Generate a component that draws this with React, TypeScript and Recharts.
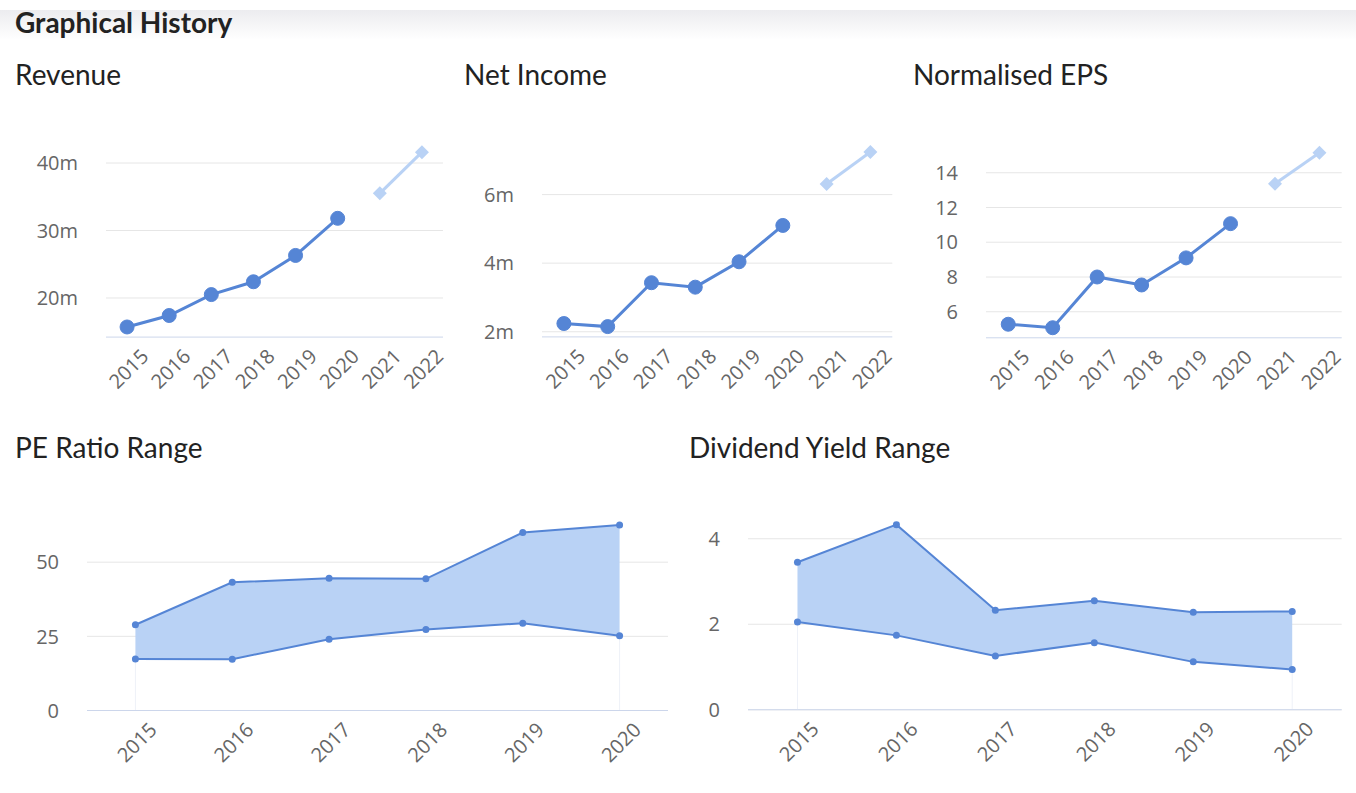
import React from "react";
import {
  LineChart, Line, XAxis, YAxis, CartesianGrid,
  ComposedChart, Area, ReferenceLine,
} from "recharts";

// categories
const YEARS = ["2015", "2016", "2017", "2018", "2019", "2020"];
const FORECAST_YEARS = ["2021", "2022"];

// series
const REVENUE = [15.7, 17.4, 20.5, 22.4, 26.3, 31.8];
const REVENUE_FC = [35.5, 41.6];
const NET_INCOME = [2.24, 2.15, 3.43, 3.3, 4.04, 5.1];
const NET_INCOME_FC = [6.31, 7.24];
const EPS = [5.28, 5.08, 8.0, 7.54, 9.1, 11.07];
const EPS_FC = [13.37, 15.15];
const PE_HIGH = [28.9, 43.2, 44.6, 44.4, 60.0, 62.5];
const PE_LOW = [17.4, 17.3, 24.0, 27.3, 29.4, 25.2];
const DY_HIGH = [3.45, 4.33, 2.33, 2.55, 2.28, 2.3];
const DY_LOW = [2.05, 1.74, 1.26, 1.57, 1.12, 0.94];

// tick labels
const REVENUE_TICKS = [20, 30, 40];
const NET_INCOME_TICKS = [2, 4, 6];
const EPS_TICKS = [6, 8, 10, 12, 14];
const PE_TICKS = [0, 25, 50];
const DY_TICKS = [0, 2, 4];

const BLUE = "#5585d5";
const LIGHT = "#b9d2f5";
const FILL = "#b9d2f5";
const GRID = "#e6e6e6";
const AXIS = "#ccd6eb";
const TICK_FONT = "'Open Sans', sans-serif";
const TITLE_FONT = "Lato, sans-serif";

const YW = 90;
const MT = 12;
const MR = 12;
const XH = 80;

interface Plot { left: number; right: number; top: number; bottom: number }

function trendRows(actual: number[], forecast: number[]) {
  const rows = YEARS.map((year, i) => ({ year, actual: actual[i], forecast: null as number | null }));
  FORECAST_YEARS.forEach((year, i) => rows.push({ year, actual: null as any, forecast: forecast[i] }));
  return rows;
}

function rangeRows(low: number[], high: number[]) {
  return YEARS.map((year, i) => ({ year, low: low[i], high: high[i], range: [low[i], high[i]] }));
}

function YTick(props: any) {
  const { x, y, payload, fmt } = props;
  return (
    <text x={x} y={y} dy="0.36em" textAnchor="end" fill="#666" fontSize={20} fontFamily={TICK_FONT}>
      {fmt ? fmt(payload.value) : payload.value}
    </text>
  );
}

function XTick(props: any) {
  const { x, y, payload } = props;
  return (
    <g transform={`translate(${x + 12.5},${y + 10.5})`}>
      <text textAnchor="end" transform="rotate(-45)" dy="0.72em" fill="#666" fontSize={20} fontFamily={TICK_FONT}>
        {payload.value}
      </text>
    </g>
  );
}

function Diamond(props: any) {
  const { cx, cy, index } = props;
  if (cx == null || cy == null) return <g key={`d${index}`} />;
  const s = 7;
  return <path key={`d${index}`} d={`M${cx},${cy - s}L${cx + s},${cy}L${cx},${cy + s}L${cx - s},${cy}Z`} fill={LIGHT} />;
}

function box(p: Plot) {
  return {
    left: p.left - YW,
    top: p.top - MT,
    width: YW + (p.right - p.left) + MR,
    height: MT + (p.bottom - p.top) + XH,
  };
}

function Title({ text, left, baseline }: { text: string; left: number; baseline: number }) {
  const f = 28;
  return (
    <div style={{
      position: "absolute", left, top: baseline - f * 0.887, fontSize: f, lineHeight: `${f}px`,
      fontFamily: TITLE_FONT, color: "#222", whiteSpace: "nowrap",
    }}>{text}</div>
  );
}

function TrendChart({ plot, actual, forecast, domain, ticks, fmt }: {
  plot: Plot; actual: number[]; forecast: number[]; domain: [number, number]; ticks: number[]; fmt: (v: number) => string;
}) {
  const b = box(plot);
  const band = (plot.right - plot.left) / (YEARS.length + FORECAST_YEARS.length);
  return (
    <div style={{ position: "absolute", left: b.left, top: b.top }}>
      <LineChart width={b.width} height={b.height} data={trendRows(actual, forecast)}
        margin={{ top: MT, right: MR, left: 0, bottom: 0 }}>
        <CartesianGrid vertical={false} stroke={GRID} strokeWidth={1} syncWithTicks />
        <XAxis dataKey="year" scale="point" padding={{ left: band / 2, right: band / 2 }}
          interval={0} height={XH} tickLine={false} tickSize={0} tickMargin={0}
          axisLine={{ stroke: AXIS }} tick={<XTick />} />
        <YAxis type="number" domain={domain} ticks={ticks} width={YW} axisLine={false}
          tickLine={false} tickSize={0} tickMargin={28} tick={<YTick fmt={fmt} />} />
        <Line dataKey="actual" stroke={BLUE} strokeWidth={3} isAnimationActive={false}
          dot={{ r: 7, fill: BLUE, stroke: BLUE, strokeWidth: 1 }} activeDot={false} />
        <Line dataKey="forecast" stroke={LIGHT} strokeWidth={3} isAnimationActive={false}
          dot={Diamond} activeDot={false} />
      </LineChart>
    </div>
  );
}

function RangeChart({ plot, low, high, domain, ticks }: {
  plot: Plot; low: number[]; high: number[]; domain: [number, number]; ticks: number[];
}) {
  const b = box(plot);
  const band = (plot.right - plot.left) / YEARS.length;
  const first = YEARS[0];
  const last = YEARS[YEARS.length - 1];
  return (
    <div style={{ position: "absolute", left: b.left, top: b.top }}>
      <ComposedChart width={b.width} height={b.height} data={rangeRows(low, high)}
        margin={{ top: MT, right: MR, left: 0, bottom: 0 }}>
        <CartesianGrid vertical={false} stroke={GRID} strokeWidth={1} syncWithTicks />
        <XAxis dataKey="year" scale="point" padding={{ left: band / 2, right: band / 2 }}
          interval={0} height={XH} tickLine={false} tickSize={0} tickMargin={0}
          axisLine={{ stroke: AXIS }} tick={<XTick />} />
        <YAxis type="number" domain={domain} ticks={ticks} width={YW} axisLine={false}
          tickLine={false} tickSize={0} tickMargin={28} tick={<YTick />} />
        <ReferenceLine segment={[{ x: first, y: 0 }, { x: first, y: low[0] }]} stroke="#eef1f8" />
        <ReferenceLine segment={[{ x: last, y: 0 }, { x: last, y: low[low.length - 1] }]} stroke="#eef1f8" />
        <Area dataKey="range" stroke="none" fill={FILL} fillOpacity={1} isAnimationActive={false} activeDot={false} />
        <Line dataKey="high" stroke={BLUE} strokeWidth={2} isAnimationActive={false}
          dot={{ r: 3.5, fill: BLUE, stroke: "none" }} activeDot={false} />
        <Line dataKey="low" stroke={BLUE} strokeWidth={2} isAnimationActive={false}
          dot={{ r: 3.5, fill: BLUE, stroke: "none" }} activeDot={false} />
      </ComposedChart>
    </div>
  );
}

export default function App() {
  const m = (v: number) => `${v}m`;
  const n = (v: number) => `${v}`;
  return (
    <div style={{ position: "absolute", left: 0, top: 0, width: 1356, height: 793, background: "#fff", overflow: "hidden" }}>
      <div style={{ position: "absolute", left: 0, top: 10, width: 1356, height: 30, background: "linear-gradient(to bottom, #ececef, #ffffff)" }} />
      <div style={{
        position: "absolute", left: 15, top: 32.5 - 28 * 0.887, fontSize: 28, lineHeight: "28px",
        fontFamily: TITLE_FONT, fontWeight: 700, color: "#222", whiteSpace: "nowrap",
      }}>Graphical History</div>

      <Title text="Revenue" left={15} baseline={85} />
      <Title text="Net Income" left={464} baseline={85} />
      <Title text="Normalised EPS" left={913} baseline={85} />
      <Title text="PE Ratio Range" left={15} baseline={457.5} />
      <Title text="Dividend Yield Range" left={689} baseline={457.5} />

      <TrendChart plot={{ left: 106, right: 443, top: 136.2, bottom: 337.3 }}
        actual={REVENUE} forecast={REVENUE_FC} domain={[14.2, 44]} ticks={REVENUE_TICKS} fmt={m} />
      <TrendChart plot={{ left: 541.7, right: 892, top: 126.4, bottom: 337.3 }}
        actual={NET_INCOME} forecast={NET_INCOME_FC} domain={[1.85, 8]} ticks={NET_INCOME_TICKS} fmt={m} />
      <TrendChart plot={{ left: 986, right: 1341.7, top: 137.9, bottom: 337.7 }}
        actual={EPS} forecast={EPS_FC} domain={[4.5, 16]} ticks={EPS_TICKS} fmt={n} />

      <RangeChart plot={{ left: 87, right: 668, top: 487.5, bottom: 710 }}
        low={PE_LOW} high={PE_HIGH} domain={[0, 75]} ticks={PE_TICKS} />
      <RangeChart plot={{ left: 748, right: 1341.7, top: 496.25, bottom: 710 }}
        low={DY_LOW} high={DY_HIGH} domain={[0, 5]} ticks={DY_TICKS} />
    </div>
  );
}
